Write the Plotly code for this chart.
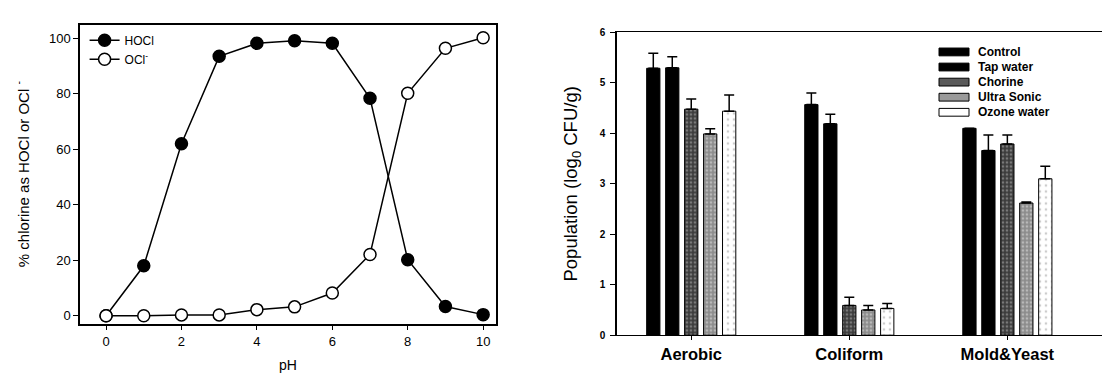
import plotly.graph_objects as go

# ---- Left panel data ----
ph = [0, 1, 2, 3, 4, 5, 6, 7, 8, 9, 10]
hocl = [0, 18, 62, 93.5, 98.2, 99.1, 98.2, 78.4, 20.2, 3.3, 0.4]
ocl = [0, 0, 0.3, 0.3, 2.2, 3.2, 8.2, 22.1, 80.2, 96.4, 100.2]

# ---- Right panel data ----
categories = ["Aerobic", "Coliform", "Mold&Yeast"]
treatments = ["Control", "Tap water", "Chorine", "Ultra Sonic", "Ozone water"]
means = {
    "Control":     [5.29, 4.57, 4.10],
    "Tap water":   [5.30, 4.19, 3.66],
    "Chorine":     [4.48, 0.59, 3.79],
    "Ultra Sonic": [3.99, 0.50, 2.62],
    "Ozone water": [4.44, 0.53, 3.10],
}
errors = {
    "Control":     [0.30, 0.23, 0.00],
    "Tap water":   [0.22, 0.19, 0.31],
    "Chorine":     [0.20, 0.16, 0.18],
    "Ultra Sonic": [0.10, 0.09, 0.02],
    "Ozone water": [0.32, 0.10, 0.25],
}

FONT = "Arial, Liberation Sans, sans-serif"

styles = {
    "Control":     dict(color="#000000", swatch="#000000", pattern=None),
    "Tap water":   dict(color="#000000", swatch="#000000", pattern=None),
    "Chorine":     dict(color="#3c3c3c", swatch="#5a5a5a", pattern=dict(shape=".", bgcolor="#3c3c3c", fgcolor="#b8b8b8", size=4, solidity=0.35)),
    "Ultra Sonic": dict(color="#8c8c8c", swatch="#9a9a9a", pattern=dict(shape=".", bgcolor="#8c8c8c", fgcolor="#e6e6e6", size=4, solidity=0.35)),
    "Ozone water": dict(color="#f4f4f4", swatch="#ffffff", pattern=dict(shape=".", bgcolor="#ffffff", fgcolor="#9a9a9a", size=6, solidity=0.15)),
}

fig = go.Figure()

fig.add_trace(go.Scatter(
    x=ph, y=hocl, mode="lines+markers", name="HOCl",
    line=dict(color="black", width=1.5),
    marker=dict(symbol="circle", size=12, color="black", line=dict(color="black", width=1.5)),
    xaxis="x", yaxis="y",
))
fig.add_trace(go.Scatter(
    x=ph, y=ocl, mode="lines+markers", name="OCl<sup>-</sup>",
    line=dict(color="black", width=1.5),
    marker=dict(symbol="circle", size=12, color="white", line=dict(color="black", width=1.5)),
    xaxis="x", yaxis="y",
))

for t in treatments:
    st = styles[t]
    marker = dict(color=st["color"], line=dict(color="black", width=1))
    if st["pattern"]:
        marker["pattern"] = st["pattern"]
    fig.add_trace(go.Bar(
        x=categories, y=means[t], name=t,
        marker=marker, showlegend=False,
        error_y=dict(type="data", array=errors[t], arrayminus=[0, 0, 0], symmetric=False,
                     color="black", thickness=1.5, width=5),
        xaxis="x2", yaxis="y2",
    ))

# Manual compact legend for the bar panel (paper coordinates)
W, H = 1110.0, 376.0
leg_x0, leg_x1, leg_tx = 931, 961, 968
leg_y0, leg_dy, sw_h = 40, 15.5, 8
for i, t in enumerate(treatments):
    yc = leg_y0 + i * leg_dy
    fig.add_shape(type="rect", xref="paper", yref="paper",
                  x0=leg_x0 / W, x1=leg_x1 / W,
                  y0=1 - (yc + sw_h / 2) / H, y1=1 - (yc - sw_h / 2) / H,
                  fillcolor=styles[t]["swatch"], line=dict(color="black", width=1))
    fig.add_annotation(xref="paper", yref="paper", x=leg_tx / W, y=1 - yc / H,
                       xanchor="left", yanchor="middle", showarrow=False,
                       text=t, font=dict(size=12, weight="bold", family=FONT))

fig.update_layout(
    width=1110, height=376,
    margin=dict(l=0, r=0, t=0, b=0),
    paper_bgcolor="white", plot_bgcolor="white",
    font=dict(family=FONT, color="black"),
    barmode="group", bargap=0.4, bargroupgap=0.3,
    showlegend=True,
    xaxis=dict(
        domain=[0.0649, 0.4396], range=[-0.69, 10.34],
        tickmode="linear", tick0=0, dtick=2,
        showline=True, linecolor="black", linewidth=1.5, mirror=True,
        ticks="outside", ticklen=5, tickcolor="black",
        showgrid=False, zeroline=False,
        tickfont=dict(size=13),
        title=dict(text="pH", font=dict(size=14), standoff=12),
    ),
    yaxis=dict(
        domain=[0.1516, 0.968], range=[-2.8, 104.9],
        tickmode="linear", tick0=0, dtick=20,
        showline=True, linecolor="black", linewidth=1.5, mirror=True,
        ticks="outside", ticklen=5, tickcolor="black",
        showgrid=False, zeroline=False,
        tickfont=dict(size=13),
        title=dict(text="% chlorine as HOCl or OCl <sup>-</sup>", font=dict(size=15), standoff=16),
    ),
    xaxis2=dict(
        domain=[0.5486, 1.0], range=[-0.47, 2.70], anchor="y2",
        showline=True, linecolor="black", linewidth=1.2, mirror=True,
        ticks="outside", ticklen=4, tickcolor="black",
        showgrid=False, zeroline=False,
        tickfont=dict(size=16.5, family=FONT, weight="bold"),
    ),
    yaxis2=dict(
        domain=[0.1197, 0.9468], range=[0, 6], anchor="x2",
        tickmode="linear", tick0=0, dtick=1,
        showline=True, linecolor="black", linewidth=1.5,
        ticks="outside", ticklen=5, tickcolor="black", ticklabelstandoff=3,
        showgrid=False, zeroline=False,
        tickfont=dict(size=10, weight="bold"),
        title=dict(text="Population (log<sub>0</sub> CFU/g)", font=dict(size=18.5), standoff=17),
    ),
    legend=dict(
        x=0.069, y=0.965, xanchor="left", yanchor="top",
        bgcolor="rgba(0,0,0,0)", font=dict(size=12),
        itemwidth=30, tracegroupgap=0,
    ),
)

fig.write_html("out.html")
